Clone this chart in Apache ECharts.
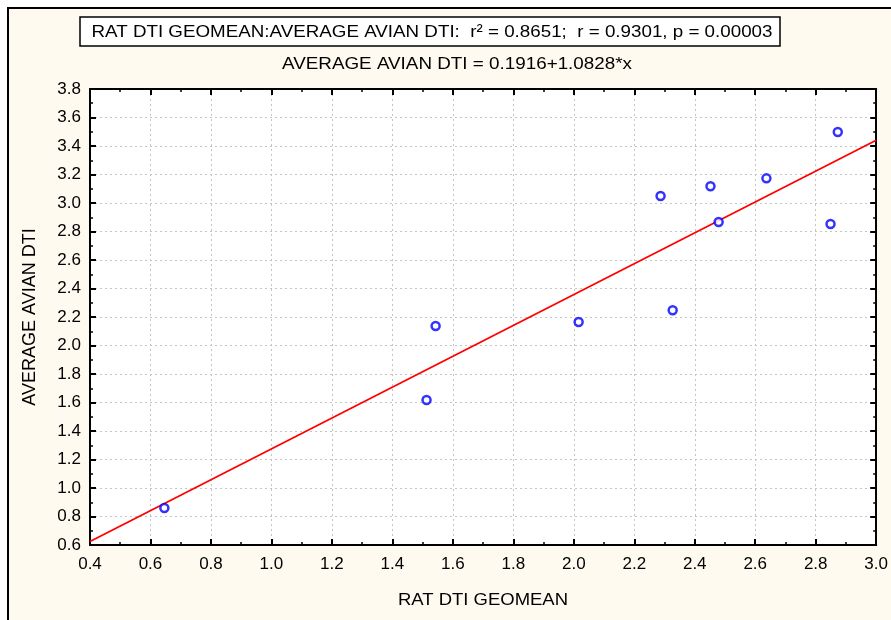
<!DOCTYPE html>
<html>
<head>
<meta charset="utf-8">
<script src="https://cdn.jsdelivr.net/npm/echarts@6/dist/echarts.min.js"></script>
<style>
  html, body { margin: 0; padding: 0; background: #fff; }
  #chart { width: 891px; height: 620px; }
</style>
</head>
<body>
<div id="chart"></div>
<script>
// rat geomean vs average avian DTI
const ratGeomean = [0.646, 1.513, 1.543, 2.016, 2.287, 2.327, 2.452, 2.479, 2.637, 2.849, 2.873];
const avianDti   = [0.86, 1.617, 2.137, 2.165, 3.049, 2.247, 3.117, 2.867, 3.173, 2.853, 3.498];

// fitted line from the chart header
const intercept = 0.1916;
const slope = 1.0828;
const fitX = [0.4, 3.0];

const headerText = 'RAT DTI GEOMEAN:AVERAGE AVIAN DTI:  r² = 0.8651;  r = 0.9301, p = 0.00003';
const equationText = 'AVERAGE AVIAN DTI = 0.1916+1.0828*x';
const xName = 'RAT DTI GEOMEAN';
const yName = 'AVERAGE AVIAN DTI';

const font = '"Liberation Sans", Arial, sans-serif';

const points = ratGeomean.map((x, i) => [x, avianDti[i]]);
const fitLine = fitX.map(x => [x, intercept + slope * x]);

// the source font is a condensed arial, so squeeze plain arial to the width seen
const measureCtx = document.createElement('canvas').getContext('2d');
function squeeze(text, size, targetWidth) {
    measureCtx.font = size + 'px ' + font;
    return targetWidth / measureCtx.measureText(text).width;
}

function narrowText(text, cx, cy, size, width) {
    return {
        type: 'text',
        x: cx,
        y: cy,
        scaleX: squeeze(text, size, width),
        style: {
            text: text,
            fill: '#000',
            font: size + 'px ' + font,
            align: 'center',
            verticalAlign: 'middle'
        }
    };
}

const myChart = echarts.init(document.getElementById('chart'));

function sideAxis(pos, min, max, showLabel) {
    return {
        type: 'value',
        position: pos,
        min: min,
        max: max,
        interval: 0.2,
        axisLine: { show: true, onZero: false, lineStyle: { color: '#000', width: 2 } },
        axisTick: { show: true, inside: true, length: 6, lineStyle: { color: '#000', width: 2 } },
        minorTick: { show: true, splitNumber: 2, length: 3, lineStyle: { color: '#000', width: 1.5 } },
        splitLine: { show: false },
        axisLabel: {
            show: showLabel,
            formatter: v => v.toFixed(1),
            color: '#000',
            fontSize: 17,
            fontFamily: font
        }
    };
}

const gridLine = { show: true, lineStyle: { color: '#c4c4c4', type: [2, 3], width: 1 } };

const xBottom = sideAxis('bottom', 0.4, 3.0, true);
xBottom.axisLabel.margin = 11;
xBottom.splitLine = gridLine;

const yLeft = sideAxis('left', 0.6, 3.8, true);
yLeft.axisLabel.margin = 9;
yLeft.name = yName;
yLeft.nameLocation = 'middle';
yLeft.nameGap = 51;
yLeft.nameTextStyle = { color: '#000', fontSize: 18, fontFamily: font };
yLeft.splitLine = gridLine;

const option = {
    animation: false,
    backgroundColor: '#fff',
    graphic: [
        {
            type: 'rect',
            z: -10,
            shape: { x: 8, y: 8, width: 900, height: 630 },
            style: { fill: '#fffaf0', stroke: '#000', lineWidth: 2 }
        },
        {
            type: 'rect',
            shape: { x: 80, y: 17, width: 700, height: 29 },
            style: { fill: '#fff', stroke: '#000', lineWidth: 1.5 }
        },
        narrowText(headerText, 432, 32, 17, 681),
        narrowText(equationText, 457, 64, 17, 350),
        narrowText(xName, 483, 600, 17, 170)
    ],
    grid: {
        left: 90,
        top: 89,
        right: 14,
        bottom: 75,
        show: true,
        backgroundColor: '#fff',
        borderWidth: 0
    },
    xAxis: [xBottom, sideAxis('top', 0.4, 3.0, false)],
    yAxis: [yLeft, sideAxis('right', 0.6, 3.8, false)],
    series: [
        {
            type: 'line',
            data: fitLine,
            symbol: 'none',
            lineStyle: { color: '#ff0000', width: 1.8 },
            z: 3
        },
        {
            type: 'scatter',
            data: points,
            symbol: 'circle',
            symbolSize: 8,
            itemStyle: { color: '#fff', borderColor: '#0000ff', borderWidth: 2.5 },
            z: 4
        }
    ]
};

myChart.setOption(option);
</script>
</body>
</html>
